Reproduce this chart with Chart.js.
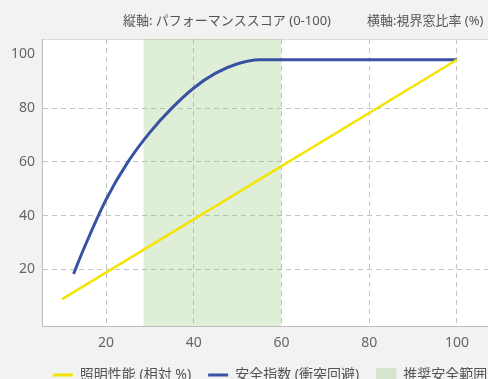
<!DOCTYPE html>
<html lang="ja">
<head>
<meta charset="UTF-8">
<title>照明性能と安全指数</title>
<script src="https://cdn.jsdelivr.net/npm/chart.js@4"></script>
<style>
  html, body { margin: 0; padding: 0; background: #f2f2f2; overflow: hidden; }
  canvas { display: block; }
</style>
</head>
<body>
<canvas id="performanceChart" width="540" height="392"></canvas>
<script>
// Lighting performance (relative %) against window ratio
const lightX = [10, 100];
const lightY = [9, 98];

// Safety index (collision avoidance) against window ratio
const safetyX = [12.6, 15, 20, 25, 30, 35, 40, 45, 50, 55, 100];
const safetyY = [18.4, 28, 46, 60, 71, 80, 87.5, 93, 96.5, 98, 98];

// Recommended safe window ratio range
const zoneRange = [28.5, 60];

const xTicks = [20, 40, 60, 80, 100];
const yTicks = [20, 40, 60, 80, 100];

const seriesNames = ['照明性能 (相対 %)', '安全指数 (衝突回避)', '推奨安全範囲'];
const yAxisNote = '縦軸: パフォーマンススコア (0-100)';
const xAxisNote = '横軸:視界窓比率 (%)';

const FONT = "'Noto Sans', 'Noto Sans CJK JP', sans-serif";
const X_MIN = 5.4;
const X_MAX = 116.2;
const Y_MIN = -1;
const Y_MAX = 105.7;

const toPoints = (xs, ys) => xs.map((x, i) => ({ x: x, y: ys[i] }));

// White plot area with a thin top edge
const plotBackground = {
  id: 'plotBackground',
  beforeDraw(chart) {
    const { ctx, chartArea: a } = chart;
    ctx.save();
    ctx.fillStyle = '#f2f2f2';
    ctx.fillRect(0, 0, chart.width, chart.height);
    ctx.fillStyle = '#ffffff';
    ctx.fillRect(a.left, a.top, a.right - a.left, a.bottom - a.top);
    ctx.strokeStyle = '#dcdcdc';
    ctx.lineWidth = 1;
    ctx.beginPath();
    ctx.moveTo(a.left, a.top + 0.5);
    ctx.lineTo(a.right, a.top + 0.5);
    ctx.stroke();
    ctx.restore();
  }
};

// Axis notes shown above the plot
const headerNotes = {
  id: 'headerNotes',
  afterDraw(chart) {
    const ctx = chart.ctx;
    ctx.save();
    ctx.font = '13px ' + FONT;
    ctx.fillStyle = '#555555';
    ctx.textBaseline = 'middle';
    ctx.fillText(yAxisNote, 123, 21);
    ctx.fillText(xAxisNote, 367, 21);
    ctx.restore();
  }
};

const ctx = document.getElementById('performanceChart').getContext('2d');
new Chart(ctx, {
  type: 'line',
  data: {
    datasets: [
      {
        label: seriesNames[0],
        data: toPoints(lightX, lightY),
        borderColor: '#f5e400',
        backgroundColor: '#f5e400',
        borderWidth: 2.5,
        pointRadius: 0,
        fill: false
      },
      {
        label: seriesNames[1],
        data: toPoints(safetyX, safetyY),
        borderColor: '#3a52a4',
        backgroundColor: '#3a52a4',
        borderWidth: 3,
        pointRadius: 0,
        cubicInterpolationMode: 'monotone',
        fill: false
      },
      {
        label: seriesNames[2],
        data: toPoints(zoneRange, [Y_MAX, Y_MAX]),
        borderColor: 'rgba(0,0,0,0)',
        backgroundColor: 'rgba(130, 190, 100, 0.256)',
        borderWidth: 0,
        pointRadius: 0,
        fill: 'start'
      }
    ]
  },
  options: {
    responsive: false,
    animation: false,
    layout: {
      padding: { top: 39, left: 12, right: 12, bottom: 0 }
    },
    scales: {
      x: {
        type: 'linear',
        min: X_MIN,
        max: X_MAX,
        afterBuildTicks: axis => { axis.ticks = xTicks.map(v => ({ value: v })); },
        afterFit: axis => { axis.height = 25; },
        grid: { color: '#c4c4c4', drawTicks: false },
        border: { display: true, color: '#bdbdbd', width: 1, dash: [5, 4] },
        ticks: { color: '#666666', padding: 9, font: { family: FONT, size: 14 } }
      },
      y: {
        type: 'linear',
        min: Y_MIN,
        max: Y_MAX,
        afterBuildTicks: axis => { axis.ticks = yTicks.map(v => ({ value: v })); },
        afterFit: axis => { axis.width = 30; },
        grid: {
          color: c => (c.tick && c.tick.value === yTicks[yTicks.length - 1]) ? 'rgba(0,0,0,0)' : '#c4c4c4',
          drawTicks: false
        },
        border: { display: true, color: '#bdbdbd', width: 1, dash: [5, 4] },
        ticks: { color: '#666666', padding: 7, font: { family: FONT, size: 14 } }
      }
    },
    plugins: {
      tooltip: { enabled: false },
      legend: {
        position: 'bottom',
        labels: {
          usePointStyle: true,
          pointStyleWidth: 20,
          boxHeight: 14,
          padding: 17,
          color: '#555555',
          font: { family: FONT, size: 14 },
          generateLabels: chart => chart.data.datasets.map((ds, i) => ({
            text: ds.label,
            datasetIndex: i,
            pointStyle: i < 2 ? 'line' : 'rect',
            fillStyle: ds.backgroundColor,
            strokeStyle: i < 2 ? ds.borderColor : 'rgba(0,0,0,0)',
            lineWidth: i < 2 ? 3 : 0,
            fontColor: '#555555',
            hidden: false
          }))
        }
      }
    }
  },
  plugins: [plotBackground, headerNotes]
});
</script>
</body>
</html>
